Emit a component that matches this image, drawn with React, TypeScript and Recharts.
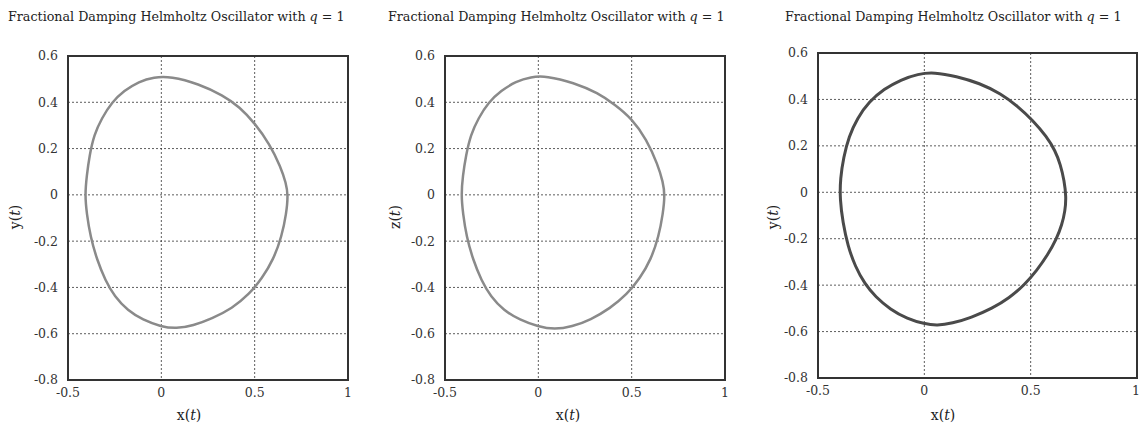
import { LineChart, Line, XAxis, YAxis, CartesianGrid, ReferenceArea, Label } from 'recharts';

const xTicks = [-0.5, 0, 0.5, 1];
const yTicks = [-0.8, -0.6, -0.4, -0.2, 0, 0.2, 0.4, 0.6];

// panel 1 : x(t) vs y(t), one closed orbit, clockwise from the top
const p1X = [0.05, 0.2, 0.33, 0.42, 0.5, 0.58, 0.64, 0.668, 0.679, 0.67, 0.645, 0.6, 0.54, 0.47, 0.38, 0.27, 0.17, 0.08, 0, -0.1, -0.18, -0.25, -0.3, -0.345, -0.38, -0.4, -0.409, -0.4, -0.385, -0.36, -0.32, -0.265, -0.2, -0.12, -0.04];
const p1Y = [0.512, 0.48, 0.43, 0.38, 0.31, 0.22, 0.12, 0.05, 0, -0.08, -0.18, -0.28, -0.36, -0.43, -0.49, -0.535, -0.565, -0.578, -0.57, -0.54, -0.5, -0.44, -0.37, -0.28, -0.18, -0.08, 0, 0.08, 0.17, 0.26, 0.33, 0.4, 0.45, 0.49, 0.509];

// panel 2 : x(t) vs z(t)
const p2X = [0.042, 0.19, 0.32, 0.41, 0.5, 0.58, 0.64, 0.668, 0.678, 0.668, 0.645, 0.603, 0.545, 0.475, 0.385, 0.28, 0.18, 0.087, 0, -0.1, -0.185, -0.255, -0.305, -0.35, -0.385, -0.404, -0.413, -0.405, -0.388, -0.362, -0.322, -0.267, -0.2, -0.12, -0.04];
const p2Y = [0.514, 0.485, 0.44, 0.39, 0.33, 0.24, 0.13, 0.055, 0, -0.08, -0.18, -0.28, -0.36, -0.43, -0.49, -0.54, -0.57, -0.582, -0.57, -0.54, -0.5, -0.44, -0.37, -0.28, -0.18, -0.08, 0, 0.08, 0.17, 0.26, 0.33, 0.4, 0.45, 0.49, 0.51];

// panel 3 : x(t) vs y(t)
const p3X = [0.046, 0.15, 0.26, 0.36, 0.44, 0.51, 0.575, 0.615, 0.64, 0.658, 0.667, 0.662, 0.647, 0.622, 0.58, 0.53, 0.47, 0.4, 0.32, 0.22, 0.13, 0.06, 0, -0.08, -0.16, -0.23, -0.28, -0.325, -0.36, -0.383, -0.397, -0.395, -0.38, -0.355, -0.315, -0.26, -0.19, -0.11, -0.03];
const p3Y = [0.517, 0.5, 0.47, 0.425, 0.37, 0.31, 0.24, 0.18, 0.12, 0.05, -0.02, -0.08, -0.14, -0.2, -0.27, -0.335, -0.4, -0.455, -0.5, -0.54, -0.565, -0.574, -0.567, -0.545, -0.505, -0.45, -0.395, -0.32, -0.23, -0.13, -0.03, 0.06, 0.15, 0.24, 0.32, 0.39, 0.445, 0.485, 0.51];

const FONT = '"DejaVu Serif", serif';

const toPoints = (xs: number[], ys: number[]) => xs.map((x, i) => ({ x, y: ys[i] }));

type PanelProps = {
  left: number;
  width: number;
  margin: { top: number; right: number; left: number; bottom: number };
  data: { x: number; y: number }[];
  yName: string;
  color: string;
  strokeWidth: number;
  titleLeft: number;
  xLabelX: number;
  yLabelX: number;
};

const AxisText = ({ name, x, y, rotate }: { name: string; x: number; y: number; rotate?: boolean }) => (
  <text
    x={x}
    y={y}
    textAnchor="middle"
    dominantBaseline="central"
    fontFamily={FONT}
    fontSize={14}
    fill="#222"
    transform={rotate ? `rotate(-90, ${x}, ${y})` : undefined}
  >
    <tspan>{name}(</tspan>
    <tspan fontStyle="italic">t</tspan>
    <tspan>)</tspan>
  </text>
);

const Panel = ({ left, width, margin, data, yName, color, strokeWidth, titleLeft, xLabelX, yLabelX }: PanelProps) => (
  <div style={{ position: 'absolute', left, top: 0, width, height: 423 }}>
    <div
      style={{
        position: 'absolute',
        left: titleLeft,
        top: 9,
        fontFamily: FONT,
        fontSize: 12.7,
        lineHeight: '16px',
        color: '#222',
        whiteSpace: 'nowrap',
      }}
    >
      Fractional Damping Helmholtz Oscillator with <i>q</i> = 1
    </div>
    <LineChart width={width} height={423} data={data} margin={margin}>
      <CartesianGrid stroke="#333" strokeWidth={0.8} strokeDasharray="2 2" />
      <XAxis
        type="number"
        dataKey="x"
        domain={[-0.5, 1]}
        ticks={xTicks}
        tickLine={false}
        axisLine={false}
        height={40}
        tick={{ fontFamily: FONT, fontSize: 12.5, fill: '#333' }}
      >
        <Label content={() => <AxisText name="x" x={xLabelX} y={415} />} />
      </XAxis>
      <YAxis
        type="number"
        dataKey="y"
        domain={[-0.8, 0.6]}
        ticks={yTicks}
        tickLine={false}
        axisLine={false}
        width={50}
        tickMargin={4}
        tick={{ fontFamily: FONT, fontSize: 12.5, fill: '#333' }}
      >
        <Label content={() => <AxisText name={yName} x={yLabelX} y={217} rotate />} />
      </YAxis>
      <Line
        type="basisClosed"
        dataKey="y"
        stroke={color}
        strokeWidth={strokeWidth}
        dot={false}
        activeDot={false}
        isAnimationActive={false}
      />
      <ReferenceArea x1={-0.5} x2={1} y1={-0.8} y2={0.6} fill="none" stroke="#333" strokeWidth={2} ifOverflow="visible" />
    </LineChart>
  </div>
);

export default function App() {
  return (
    <div style={{ position: 'absolute', left: 0, top: 0, width: 1139, height: 423, background: '#fff' }}>
      <Panel
        left={0}
        width={370}
        margin={{ top: 56, right: 22, left: 18, bottom: 3 }}
        data={toPoints(p1X, p1Y)}
        yName="y"
        color="#8a8a8a"
        strokeWidth={2.5}
        titleLeft={8}
        xLabelX={189}
        yLabelX={15}
      />
      <Panel
        left={380}
        width={370}
        margin={{ top: 56, right: 25, left: 15, bottom: 3 }}
        data={toPoints(p2X, p2Y)}
        yName="z"
        color="#8a8a8a"
        strokeWidth={2.5}
        titleLeft={8}
        xLabelX={188}
        yLabelX={15}
      />
      <Panel
        left={760}
        width={379}
        margin={{ top: 53, right: 2, left: 8, bottom: 5 }}
        data={toPoints(p3X, p3Y)}
        yName="y"
        color="#4a4a4a"
        strokeWidth={3}
        titleLeft={25}
        xLabelX={183}
        yLabelX={13}
      />
    </div>
  );
}
